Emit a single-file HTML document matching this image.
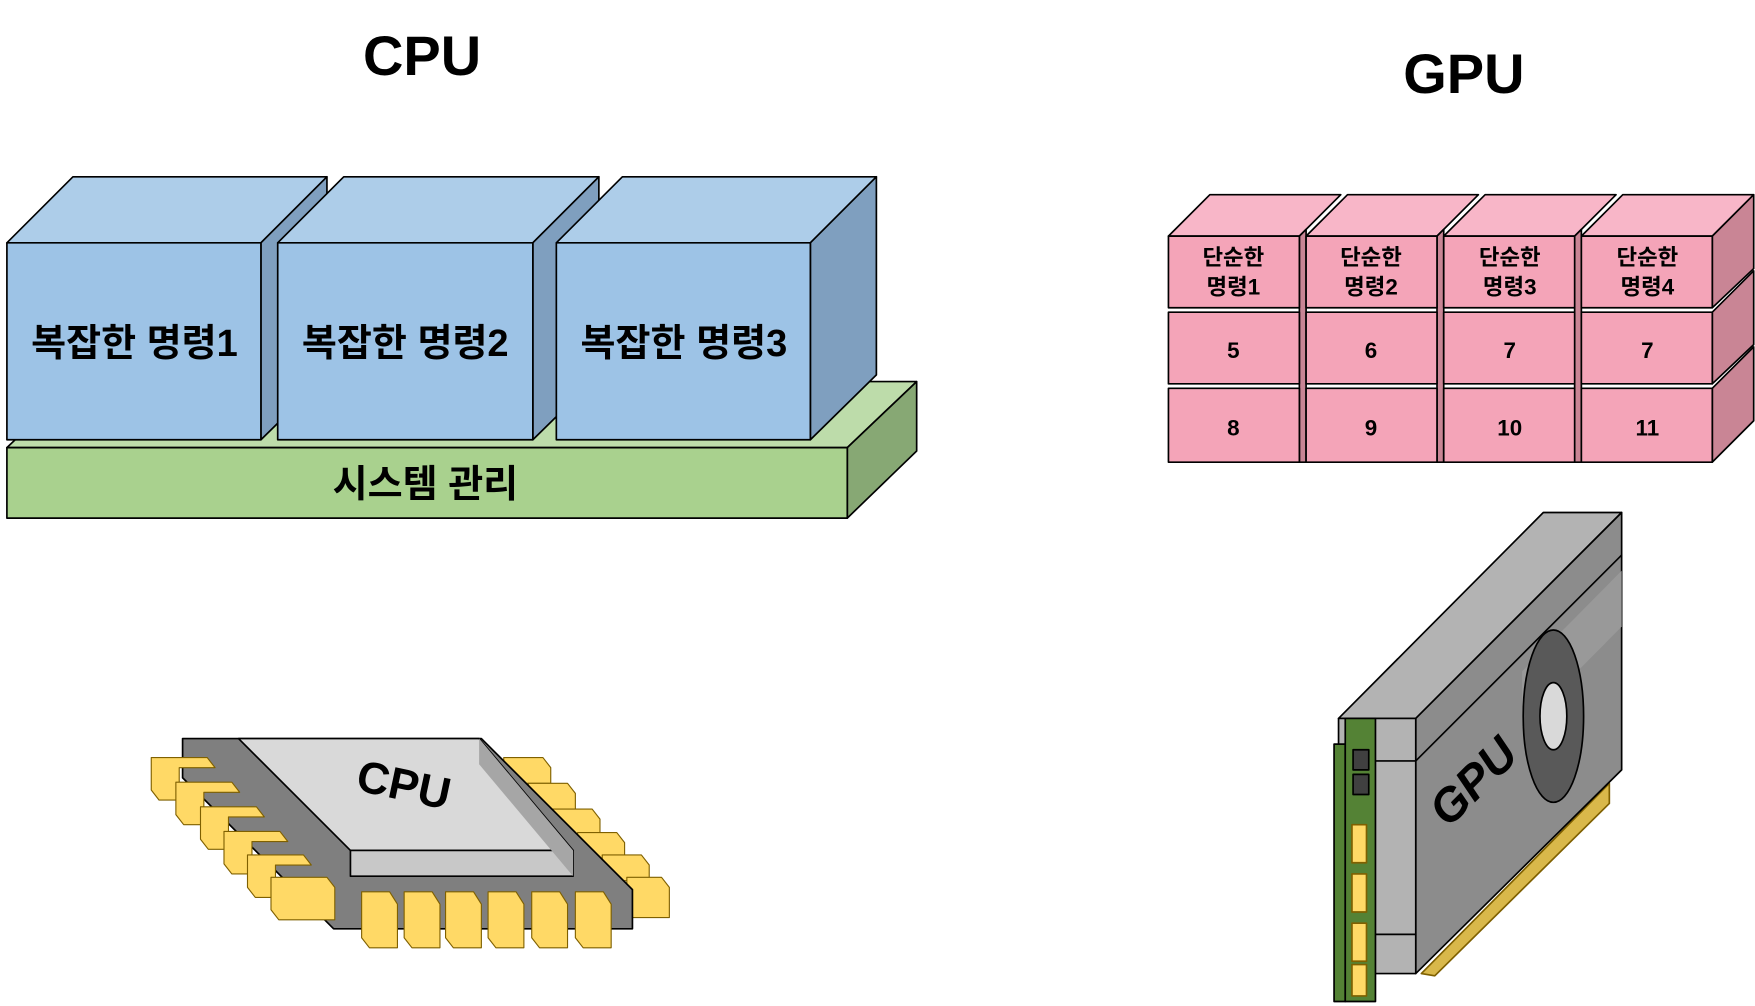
<!DOCTYPE html>
<html><head><meta charset="utf-8"><style>
html,body{margin:0;padding:0;background:#fff;}
svg{display:block;}
text{font-family:"Liberation Sans","Noto Sans CJK KR","NanumGothic",sans-serif;font-weight:bold;fill:#000;}
</style></head><body>
<svg width="1755" height="1006" viewBox="0 0 1568 899" xmlns="http://www.w3.org/2000/svg">
<g stroke="#000" stroke-width="1.5" stroke-linejoin="round">
<!-- titles -->
<text x="377" y="67" font-size="50" text-anchor="middle" stroke="none">CPU</text>
<text x="1308" y="83" font-size="50" text-anchor="middle" stroke="none">GPU</text>

<!-- green slab -->
<polygon points="6,400 68,341 819,341 757,400" fill="#bddcaa"/>
<polygon points="757,400 819,341 819,403 757,463" fill="#87a874"/>
<rect x="6" y="400" width="751" height="63" fill="#a9d18e"/>
<text x="380" y="444" font-size="34" text-anchor="middle" stroke="none">시스템 관리</text>

<!-- blue cubes -->
<polygon points="6,217 65,158 292,158 233,217" fill="#adcde9"/>
<polygon points="233,217 292,158 292,335 233,393" fill="#7f9fbf"/>
<rect x="6" y="217" width="227" height="176" fill="#9dc3e6"/>
<polygon points="248,217 307,158 535,158 476,217" fill="#adcde9"/>
<polygon points="476,217 535,158 535,335 476,393" fill="#7f9fbf"/>
<rect x="248" y="217" width="228" height="176" fill="#9dc3e6"/>
<polygon points="497,217 556,158 783,158 724,217" fill="#adcde9"/>
<polygon points="724,217 783,158 783,335 724,393" fill="#7f9fbf"/>
<rect x="497" y="217" width="227" height="176" fill="#9dc3e6"/>
<g stroke="none" font-size="34" text-anchor="middle">
<text x="120" y="318">복잡한 명령1</text>
<text x="362" y="318">복잡한 명령2</text>
<text x="611" y="318">복잡한 명령3</text>
</g>

<!-- pink cubes -->
<g>
<polygon points="1044,211 1081,174 1198,174 1161,211" fill="#f8b6c8"/>
<polygon points="1167,211 1204,174 1321,174 1284,211" fill="#f8b6c8"/>
<polygon points="1290,211 1327,174 1444,174 1407,211" fill="#f8b6c8"/>
<polygon points="1413,211 1450,174 1567,174 1530,211" fill="#f8b6c8"/>
<polygon points="1161,211 1167,205 1167,413 1161,413" fill="#c98595"/>
<polygon points="1284,211 1290,205 1290,413 1284,413" fill="#c98595"/>
<polygon points="1407,211 1413,205 1413,413 1407,413" fill="#c98595"/>
<polygon points="1530,211 1567,174 1567,240 1530,275" fill="#c98595"/>
<polygon points="1530,279 1567,242 1567,308 1530,343" fill="#c98595"/>
<polygon points="1530,347 1567,310 1567,376 1530,413" fill="#c98595"/>
<rect x="1044" y="211" width="117" height="64" fill="#f4a4b8"/>
<rect x="1167" y="211" width="117" height="64" fill="#f4a4b8"/>
<rect x="1290" y="211" width="117" height="64" fill="#f4a4b8"/>
<rect x="1413" y="211" width="117" height="64" fill="#f4a4b8"/>
<rect x="1044" y="279" width="117" height="64" fill="#f4a4b8"/>
<rect x="1167" y="279" width="117" height="64" fill="#f4a4b8"/>
<rect x="1290" y="279" width="117" height="64" fill="#f4a4b8"/>
<rect x="1413" y="279" width="117" height="64" fill="#f4a4b8"/>
<rect x="1044" y="347" width="117" height="66" fill="#f4a4b8"/>
<rect x="1167" y="347" width="117" height="66" fill="#f4a4b8"/>
<rect x="1290" y="347" width="117" height="66" fill="#f4a4b8"/>
<rect x="1413" y="347" width="117" height="66" fill="#f4a4b8"/>
</g>
<g stroke="none" font-size="20" text-anchor="middle">
<text x="1102" y="237">단순한</text><text x="1102" y="263">명령1</text>
<text x="1225" y="237">단순한</text><text x="1225" y="263">명령2</text>
<text x="1349" y="237">단순한</text><text x="1349" y="263">명령3</text>
<text x="1472" y="237">단순한</text><text x="1472" y="263">명령4</text>
<text x="1102" y="320">5</text><text x="1225" y="320">6</text><text x="1349" y="320">7</text><text x="1472" y="320">7</text>
<text x="1102" y="389">8</text><text x="1225" y="389">9</text><text x="1349" y="389">10</text><text x="1472" y="389">11</text>
</g>

<!-- CPU chip -->
<g fill="#ffd966" stroke="#7f6000" stroke-width="1">
<polygon points="450,677 485,677 492,686 492,700 457,700 450,691"/>
<polygon points="472,700 507,700 514,709 514,723 479,723 472,714"/>
<polygon points="494,723 529,723 536,732 536,746 501,746 494,737"/>
<polygon points="516,744 551,744 558,753 558,767 523,767 516,758"/>
<polygon points="538,764 573,764 580,773 580,787 545,787 538,778"/>
<polygon points="560,784 591,784 598,793 598,820 563,820 560,811"/>
</g>
<polygon points="163,660 430,660 565,795 565,830 298,830 163,695" fill="#7f7f7f"/>
<polygon points="213,660 428,660 512,760 313,760" fill="#d9d9d9"/>
<rect x="313" y="760" width="199" height="23" fill="#c8c8c8"/>
<polygon points="428,660 512,760 512,783 428,683" fill="#a6a6a6" stroke="none"/>
<text x="360" y="715" font-size="40" text-anchor="middle" stroke="none" transform="rotate(12 360 705)">CPU</text>
<g fill="#ffd966" stroke="#7f6000" stroke-width="1">
<polygon points="135,677 185,677 192,686 160,686 160,715 142,715 135,706"/>
<polygon points="157,699 207,699 214,708 182,708 182,737 164,737 157,728"/>
<polygon points="179,721 229,721 236,730 204,730 204,759 186,759 179,750"/>
<polygon points="200,743 250,743 257,752 225,752 225,781 207,781 200,772"/>
<polygon points="221,764 271,764 278,773 246,773 246,802 228,802 221,793"/>
<polygon points="242,784 292,784 299,793 299,822 249,822 242,813"/>
<polygon points="323,797 348,797 355,808 355,847 330,847 323,838"/>
<polygon points="361,797 386,797 393,808 393,847 368,847 361,838"/>
<polygon points="398,797 423,797 430,808 430,847 405,847 398,838"/>
<polygon points="436,797 461,797 468,808 468,847 443,847 436,838"/>
<polygon points="475,797 500,797 507,808 507,847 482,847 475,838"/>
<polygon points="514,797 539,797 546,808 546,847 521,847 514,838"/>
</g>

<!-- GPU card -->
<polygon points="1270,870 1438,700 1438,718 1282,872" fill="#d9b84a" stroke="#7f6000"/>
<polygon points="1196,642 1379,458 1449,458 1265,642" fill="#b3b3b3"/>
<polygon points="1265,642 1449,458 1449,688 1265,870" fill="#8c8c8c"/>
<polygon points="1265,680 1449,496" fill="none"/>
<polygon points="1360,600 1449,510 1449,560 1360,650" fill="#999" stroke="none"/>
<rect x="1196" y="642" width="69" height="228" fill="#b3b3b3"/>
<line x1="1229" y1="680" x2="1265" y2="680"/>
<line x1="1229" y1="835" x2="1265" y2="835"/>
<ellipse cx="1388" cy="640" rx="27" ry="77" fill="#595959"/>
<ellipse cx="1388" cy="640" rx="12" ry="30" fill="#d9d9d9"/>
<text x="1318" y="712" font-size="42" text-anchor="middle" stroke="none" fill="#111" transform="rotate(-45 1318 700)" font-style="italic">GPU</text>
<rect x="1192" y="665" width="10" height="230" fill="#548235"/>
<rect x="1202" y="642" width="27" height="253" fill="#548235"/>
<rect x="1209" y="670" width="14" height="18" fill="#404040"/>
<rect x="1209" y="692" width="14" height="18" fill="#404040"/>
<rect x="1208" y="737" width="13" height="34" fill="#ffd966" stroke="#7f6000"/>
<rect x="1208" y="781" width="13" height="34" fill="#ffd966" stroke="#7f6000"/>
<rect x="1208" y="825" width="13" height="34" fill="#ffd966" stroke="#7f6000"/>
<rect x="1208" y="862" width="13" height="28" fill="#ffd966" stroke="#7f6000"/>
</g>
</svg>
</body></html>
